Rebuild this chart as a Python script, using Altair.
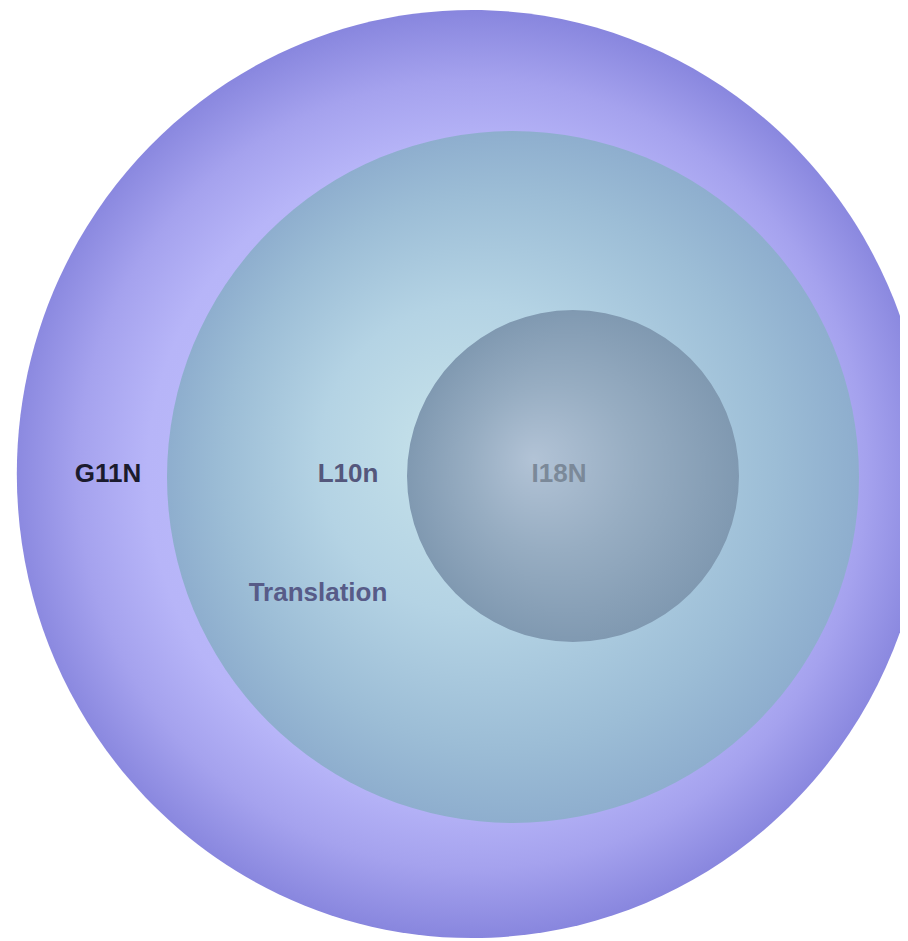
import altair as alt
import pandas as pd

# Nested circles (coordinates in chart units; 1 unit = 1 px of the page)
circle_names = ["G11N", "L10n", "I18N"]
circle_cx = [472, 513, 573]
circle_cy = [474, 477, 476]
circle_r = [464, 346, 166]

# Labels
label_text = ["G11N", "L10n", "Translation", "I18N"]
label_x = [108, 348, 318, 559]
label_y = [482, 482, 601, 482]
label_color = ["#1b1b2e", "#54577c", "#575b88", "#7b8999"]

# Background grid
grid_x = list(range(20, 900, 30))
grid_y = list(range(12, 941, 30))

circles = pd.DataFrame({"name": circle_names, "cx": circle_cx, "cy": circle_cy, "r": circle_r})
labels = pd.DataFrame({"text": label_text, "x": label_x, "y": label_y, "color": label_color})

xs = alt.Scale(domain=[8, 900], nice=False, zero=False)
ys = alt.Scale(domain=[8, 941], nice=False, zero=False, reverse=True)
ss = alt.Scale(type="pow", exponent=2, domain=[0, 500], range=[0, 1000000])

xaxis = alt.Axis(values=grid_x, grid=True, labels=False, ticks=False, domain=False, title=None,
                 gridColor="#2a2a60", gridOpacity=0.08, zindex=1)
yaxis = alt.Axis(values=grid_y, grid=True, labels=False, ticks=False, domain=False, title=None,
                 gridColor="#2a2a60", gridOpacity=0.08, zindex=1)


def grad(stops, fx, fy):
    return {
        "gradient": "radial",
        "x1": fx, "y1": fy, "r1": 0,
        "x2": 0.5, "y2": 0.5, "r2": 0.5,
        "stops": [{"offset": o, "color": c} for o, c in stops],
    }


grads = {
    "G11N": grad([(0, "#c4c4ff"), (0.7, "#b7b5f8"), (0.85, "#a5a2ee"), (1, "#8886de")], 0.5, 0.5),
    "L10n": grad([(0, "#c6e2ea"), (0.45, "#b4d3e4"), (0.8, "#9cbdd6"), (1, "#8eaece")], 0.4, 0.45),
    "I18N": grad([(0, "#b2c3d6"), (0.5, "#97adc2"), (1, "#8099b1")], 0.38, 0.45),
}
shapes = {
    "G11N": "M-0.981,0A0.981,1,0,1,1,0.981,0A0.981,1,0,1,1,-0.981,0Z",
    "L10n": "circle",
    "I18N": "circle",
}

layers = []
for i, n in enumerate(circle_names):
    layers.append(
        alt.Chart(circles)
        .transform_filter(alt.datum.name == n)
        .mark_point(filled=True, fill=grads[n], shape=shapes[n], opacity=1, strokeWidth=0)
        .encode(
            x=alt.X("cx:Q", scale=xs, axis=xaxis if i == 0 else None),
            y=alt.Y("cy:Q", scale=ys, axis=yaxis if i == 0 else None),
            size=alt.Size("r:Q", scale=ss, legend=None),
        )
    )

text = (
    alt.Chart(labels)
    .mark_text(font="Liberation Sans", fontSize=26, fontWeight="bold", align="center", baseline="alphabetic")
    .encode(
        x=alt.X("x:Q", scale=xs, axis=None),
        y=alt.Y("y:Q", scale=ys, axis=None),
        text="text:N",
        color=alt.Color("color:N", scale=None),
    )
)

chart = (
    alt.layer(*layers, text)
    .properties(width=892, height=933, padding=0, autosize=alt.AutoSizeParams(type="none"))
    .configure_view(stroke=None)
)

chart.save("out.html", embed_options={"renderer": "svg", "actions": False})
